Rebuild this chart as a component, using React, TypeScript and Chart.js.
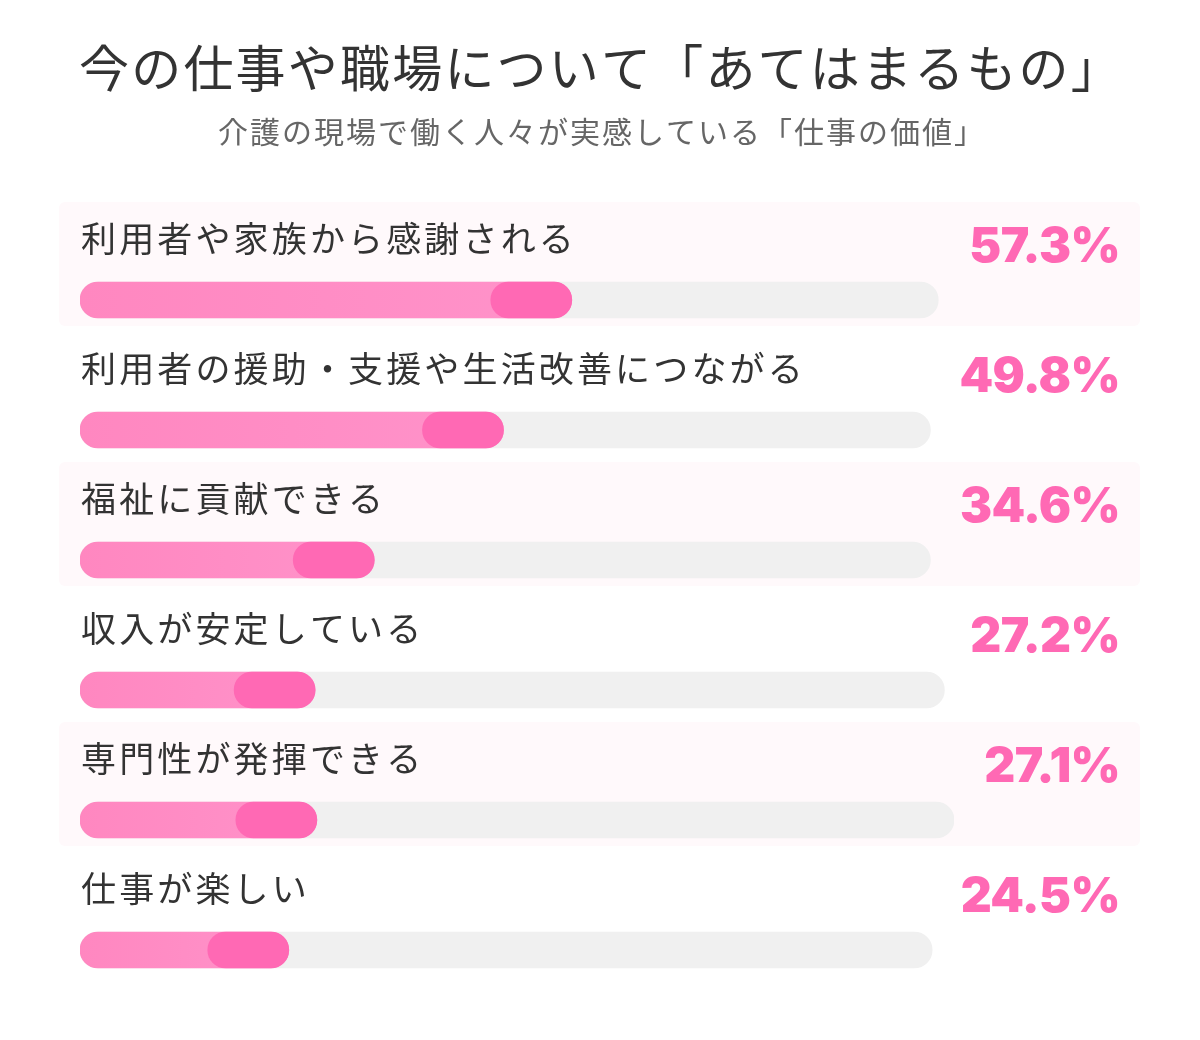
import React, { useEffect, useRef } from "react";
import { Chart, registerables } from "chart.js";

Chart.register(...registerables);

const TITLE = "今の仕事や職場について「あてはまるもの」";
const SUBTITLE = "介護の現場で働く人々が実感している「仕事の価値」";

const categories = [
  "利用者や家族から感謝される",
  "利用者の援助・支援や生活改善につながる",
  "福祉に貢献できる",
  "収入が安定している",
  "専門性が発揮できる",
  "仕事が楽しい",
];

const percentages = [57.3, 49.8, 34.6, 27.2, 27.1, 24.5];

// length of each grey track, in percent of the widest track
const trackLengths = [98.2, 97.3, 97.3, 98.9, 100, 97.5];

const END_CAP_UNITS = 9.27; // darker tip of each bar, in axis units

const fillEnds = percentages.map((p, i) => (p * trackLengths[i]) / 100);
const capRanges = fillEnds.map((e) => [Math.max(0, e - END_CAP_UNITS), e]);

export default function App() {
  const ref = useRef<HTMLCanvasElement | null>(null);

  useEffect(() => {
    const canvas = ref.current;
    if (!canvas) return;

    const decor = {
      id: "decor",
      beforeDatasetsDraw(chart: any) {
        const ctx = chart.ctx;
        const y = chart.scales.y;
        ctx.save();
        ctx.fillStyle = "#fff9fb";
        categories.forEach((_, i) => {
          if (i % 2 !== 0) return;
          const c = y.getPixelForValue(i);
          ctx.beginPath();
          (ctx as any).roundRect(59, c - 98, 1081, 124, 6);
          ctx.fill();
        });
        ctx.restore();
      },
      afterDatasetsDraw(chart: any) {
        const ctx = chart.ctx;
        const y = chart.scales.y;
        ctx.save();
        ctx.textBaseline = "middle";
        // title
        ctx.textAlign = "center";
        ctx.fillStyle = "#333333";
        ctx.font = '400 50px "Noto Sans CJK JP"';
        (ctx as any).letterSpacing = "2.2px";
        ctx.fillText(TITLE, 601, 68);
        ctx.fillStyle = "#666666";
        ctx.font = '400 30px "Noto Sans CJK JP"';
        (ctx as any).letterSpacing = "2px";
        ctx.fillText(SUBTITLE, 602, 132);

        categories.forEach((label, i) => {
          const c = y.getPixelForValue(i);
          ctx.textAlign = "left";
          ctx.fillStyle = "#333333";
          ctx.font = '400 35px "Noto Sans CJK JP"';
          (ctx as any).letterSpacing = "3.15px";
          ctx.fillText(label, 81, c - 61);

          ctx.textAlign = "right";
          ctx.fillStyle = "#ff69b4";
          ctx.font = '900 48px Inter';
          (ctx as any).letterSpacing = "-0.6px";
          ctx.fillText(percentages[i].toFixed(1) + "%", 1120, c - 52);
        });
        ctx.restore();
      },
    };

    const chart = new Chart(canvas, {
      type: "bar",
      data: {
        labels: categories,
        datasets: [
          {
            label: "cap",
            data: capRanges as any,
            backgroundColor: "#ff69b4",
            borderRadius: 18,
            borderSkipped: false,
            grouped: false,
            barThickness: 36,
            order: 1,
          },
          {
            label: "fill",
            data: fillEnds,
            backgroundColor: (c: any) => {
              const chart = c.chart;
              const area = chart.chartArea;
              const xs = chart.scales.x;
              if (!area || !xs || c.dataIndex === undefined) return "#ff8cc6";
              const end = xs.getPixelForValue(fillEnds[c.dataIndex]);
              const g = chart.ctx.createLinearGradient(area.left, 0, end, 0);
              g.addColorStop(0, "#ff87c0");
              g.addColorStop(1, "#ff93ca");
              return g;
            },
            borderRadius: 18,
            borderSkipped: false,
            grouped: false,
            barThickness: 36,
            order: 2,
          },
          {
            label: "track",
            data: trackLengths,
            backgroundColor: "#f0f0f0",
            borderRadius: 18,
            borderSkipped: false,
            grouped: false,
            barThickness: 36,
            order: 3,
          },
        ],
      },
      options: {
        indexAxis: "y",
        responsive: false,
        animation: false,
        layout: { padding: { left: 80, right: 246, top: 235, bottom: 25 } },
        scales: {
          x: { display: false, min: 0, max: 100 },
          y: { display: false },
        },
        plugins: {
          legend: { display: false },
          tooltip: { enabled: false },
          title: { display: false },
        },
      },
      plugins: [decor],
    });

    return () => chart.destroy();
  }, []);

  return (
    <div style={{ position: "absolute", left: 0, top: 0, width: 1200, height: 1040, background: "#ffffff" }}>
      <canvas ref={ref} width={1200} height={1040} />
    </div>
  );
}
